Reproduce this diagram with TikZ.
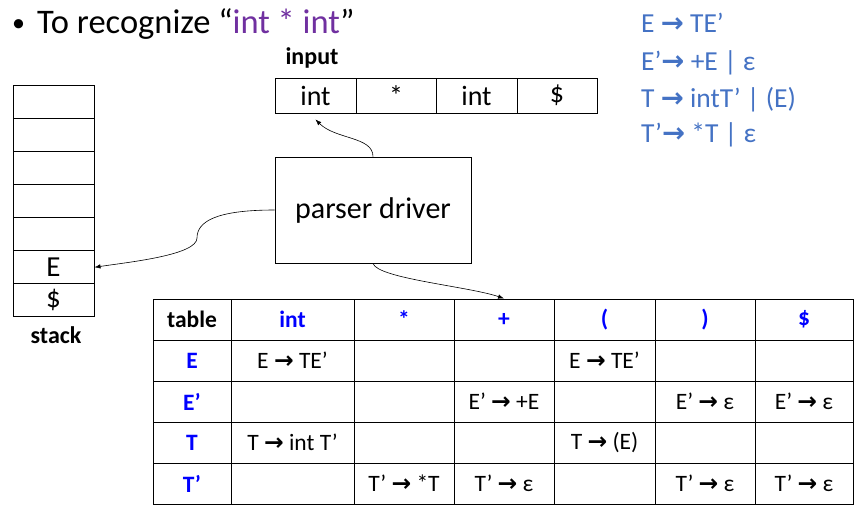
\documentclass[tikz,border=0pt]{standalone}
\usepackage{fontspec}
\setmainfont{Carlito}
\newfontfamily\dejavu{DejaVu Sans}
\usetikzlibrary{arrows.meta}
\definecolor{purp}{HTML}{7030A0}
\definecolor{gblue}{HTML}{4472C4}
\definecolor{hblue}{HTML}{0000FF}
\newcommand\rarr{{\dejavu\bfseries →}}
\newcommand\tcell[6]{\node[tcellst,#5,minimum width={#3-#2},minimum height=41] (#1) at ({(#2+#3)/2},{#4+20.5}) {#6};}
\begin{document}
\begin{tikzpicture}[x=1pt,y=-1pt,
  boxst/.style={draw,line width=1pt,inner sep=0pt},
  tcellst/.style={draw,line width=1pt,inner sep=0pt,font=\fontsize{23.5}{26}\selectfont},
  hdr/.style={text=hblue,font=\fontsize{23.5}{26}\selectfont\bfseries},
  gram/.style={anchor=base west,inner sep=0pt,text=gblue,font=\fontsize{27.5}{30}\selectfont},
  lbl/.style={anchor=base,inner sep=0pt,font=\fontsize{24}{26}\selectfont\bfseries},
  conn/.style={line width=0.6pt,-{Latex[length=6pt,width=4.5pt]}}
]
\useasboundingbox (0,0) rectangle (867,512);
% title
\node[anchor=base west,inner sep=0pt,font=\fontsize{26}{30}\selectfont] (bul) at (12,31) {•};
\node[anchor=base west,inner sep=0pt,font=\fontsize{34.5}{38}\selectfont] (title) at (37,33) {To recognize “\textcolor{purp}{int * int}”};
% grammar
\node[gram] (g1) at (641,32) {E \rarr{} TE’};
\node[gram] (g2) at (641,70) {E’\rarr{} +E | ε};
\node[gram] (g3) at (641,107) {T \rarr{} intT’ | (E)};
\node[gram] (g4) at (641,142) {T’\rarr{} *T | ε};
% input
\node[lbl] (inlbl) at (312,64) {input};
\foreach \n/\a/\b/\t in {i1/275/356/int, i2/356/436/*, i3/436/517/int, i4/517/597/\$}{
  \node[boxst,minimum width={\b-\a},minimum height=35,font=\fontsize{28}{30}\selectfont] (\n) at ({(\a+\b)/2},95.5) {\t};
}
% driver
\node[boxst,minimum width=196,minimum height=106,font=\fontsize{30}{32}\selectfont] (drv) at (373,210) {parser driver};
% stack
\foreach \k/\t in {1/,2/,3/,4/,5/,6/E,7/\$}{
  \node[boxst,minimum width=81,minimum height=33.14,font=\fontsize{29}{30}\selectfont] (s\k) at (53.5,{85+33.14*(\k-0.5)}) {\t};
}
\node[lbl] (stlbl) at (56,343) {stack};
% table
\tcell{c00}{153}{231}{299}{font=\fontsize{23.5}{26}\selectfont\bfseries}{table}
\tcell{c01}{231}{354}{299}{hdr}{int}
\tcell{c02}{354}{454}{299}{hdr}{*}
\tcell{c03}{454}{554}{299}{hdr}{+}
\tcell{c04}{554}{655}{299}{hdr}{(}
\tcell{c05}{655}{755}{299}{hdr}{)}
\tcell{c06}{755}{853}{299}{hdr}{\$}
\tcell{c10}{153}{231}{340}{hdr}{E}
\tcell{c11}{231}{354}{340}{}{E \rarr{} TE’}
\tcell{c12}{354}{454}{340}{}{}
\tcell{c13}{454}{554}{340}{}{}
\tcell{c14}{554}{655}{340}{}{E \rarr{} TE’}
\tcell{c15}{655}{755}{340}{}{}
\tcell{c16}{755}{853}{340}{}{}
\tcell{c20}{153}{231}{381}{hdr}{E’}
\tcell{c21}{231}{354}{381}{}{}
\tcell{c22}{354}{454}{381}{}{}
\tcell{c23}{454}{554}{381}{}{E’ \rarr{} +E}
\tcell{c24}{554}{655}{381}{}{}
\tcell{c25}{655}{755}{381}{}{E’ \rarr{} ε}
\tcell{c26}{755}{853}{381}{}{E’ \rarr{} ε}
\tcell{c30}{153}{231}{422}{hdr}{T}
\tcell{c31}{231}{354}{422}{}{T \rarr{} int T’}
\tcell{c32}{354}{454}{422}{}{}
\tcell{c33}{454}{554}{422}{}{}
\tcell{c34}{554}{655}{422}{}{T \rarr{} (E)}
\tcell{c35}{655}{755}{422}{}{}
\tcell{c36}{755}{853}{422}{}{}
\tcell{c40}{153}{231}{463}{hdr}{T’}
\tcell{c41}{231}{354}{463}{}{}
\tcell{c42}{354}{454}{463}{}{T’ \rarr{} *T}
\tcell{c43}{454}{554}{463}{}{T’ \rarr{} ε}
\tcell{c44}{554}{655}{463}{}{}
\tcell{c45}{655}{755}{463}{}{T’ \rarr{} ε}
\tcell{c46}{755}{853}{463}{}{T’ \rarr{} ε}
% connectors
\coordinate (inTip) at ([yshift=-6]i1.south);
\draw[conn] (drv.north) .. controls +(0,-20) and +(20,20) .. (inTip);
\draw[conn] (drv.west) .. controls (215,210) and (197,222) .. (197,238) .. controls (197,255) and (130,262) .. (s6.east);
\draw[conn] (drv.south) .. controls +(5,15) and +(-35,-12) .. (c03.north);
\end{tikzpicture}
\end{document}
